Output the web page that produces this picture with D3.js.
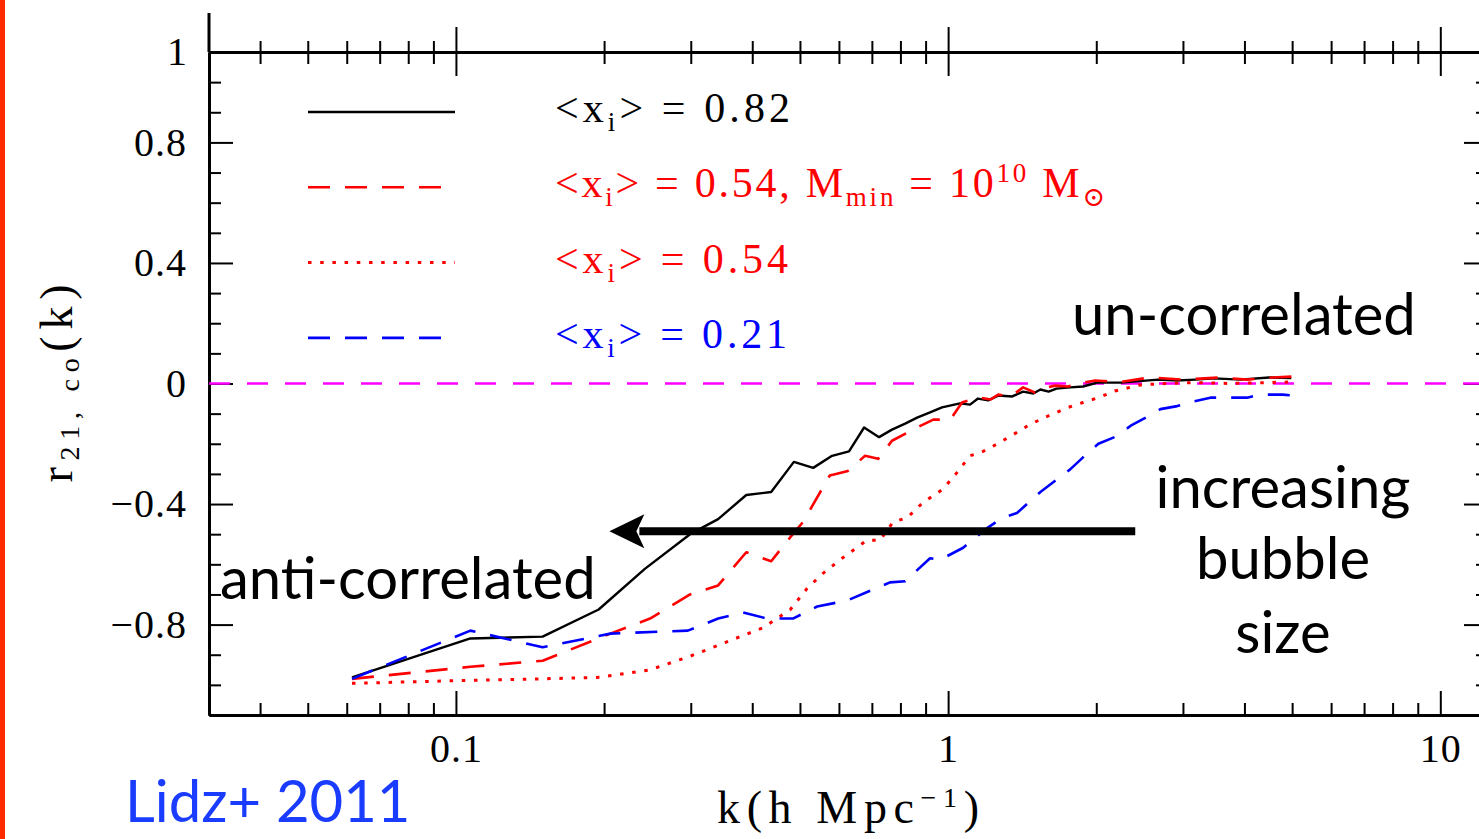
<!DOCTYPE html>
<html>
<head>
<meta charset="utf-8">
<script src="https://cdn.jsdelivr.net/npm/d3@7"></script>
<style>
  body { margin: 0; background: #fff; }
  svg { display: block; }
</style>
</head>
<body>
<svg id="chart"></svg>
<script>
// <x_i> = 0.82
const kBlack = [0.0615, 0.107, 0.150, 0.195, 0.242, 0.299, 0.341, 0.389, 0.437, 0.486, 0.532, 0.581, 0.629, 0.675, 0.724, 0.769, 0.818, 0.865, 0.919, 0.972, 1.057, 1.108, 1.150, 1.206, 1.264, 1.35, 1.42, 1.49, 1.54, 1.60, 1.66, 1.77, 1.88, 2.01, 2.25, 2.45, 2.67, 2.92, 3.18, 3.47, 3.92, 4.49, 4.98];
const rBlack = [-0.975, -0.846, -0.84, -0.75, -0.615, -0.50, -0.45, -0.37, -0.36, -0.26, -0.28, -0.24, -0.225, -0.146, -0.178, -0.153, -0.133, -0.113, -0.096, -0.079, -0.066, -0.07, -0.05, -0.056, -0.04, -0.043, -0.027, -0.033, -0.02, -0.027, -0.017, -0.013, -0.01, 0.003, 0.003, 0.008, 0.013, 0.01, 0.013, 0.017, 0.013, 0.02, 0.018];

// <x_i> = 0.54, M_min = 10^10 M_sun
const kRedMmin = [0.0615, 0.107, 0.150, 0.206, 0.248, 0.299, 0.341, 0.389, 0.437, 0.478, 0.507, 0.575, 0.626, 0.678, 0.721, 0.769, 0.865, 0.933, 1.01, 1.067, 1.15, 1.22, 1.264, 1.34, 1.42, 1.50, 1.55, 1.65, 1.75, 1.88, 1.99, 2.24, 2.57, 3.0, 3.57, 4.05, 4.57, 5.03];
const rRedMmin = [-0.98, -0.94, -0.92, -0.83, -0.78, -0.70, -0.67, -0.56, -0.59, -0.51, -0.46, -0.305, -0.29, -0.24, -0.25, -0.19, -0.146, -0.12, -0.12, -0.063, -0.046, -0.053, -0.037, -0.043, -0.013, -0.03, -0.017, -0.007, -0.01, 0.003, 0.01, 0.005, 0.02, 0.013, 0.02, 0.013, 0.02, 0.023];

// <x_i> = 0.54
const kRed = [0.0615, 0.107, 0.150, 0.196, 0.248, 0.299, 0.352, 0.421, 0.478, 0.517, 0.557, 0.609, 0.684, 0.727, 0.773, 0.826, 0.889, 0.977, 1.043, 1.108, 1.178, 1.26, 1.355, 1.47, 1.59, 1.75, 1.88, 2.02, 2.18, 2.45, 2.76, 3.18, 3.74, 4.41, 5.03];
const rRed = [-0.995, -0.985, -0.98, -0.975, -0.95, -0.905, -0.86, -0.81, -0.75, -0.68, -0.63, -0.58, -0.52, -0.52, -0.46, -0.445, -0.395, -0.35, -0.295, -0.24, -0.225, -0.20, -0.17, -0.135, -0.109, -0.08, -0.063, -0.047, -0.025, -0.005, 0.0, 0.003, 0.0, 0.003, 0.005];

// <x_i> = 0.21
const kBlue = [0.0615, 0.107, 0.150, 0.206, 0.296, 0.341, 0.383, 0.429, 0.484, 0.542, 0.624, 0.762, 0.818, 0.919, 0.963, 1.073, 1.20, 1.29, 1.38, 1.54, 1.77, 1.88, 2.02, 2.20, 2.35, 2.54, 2.70, 2.92, 3.15, 3.41, 3.69, 4.05, 4.30, 4.79, 5.03];
const rBlue = [-0.98, -0.82, -0.875, -0.83, -0.82, -0.78, -0.76, -0.78, -0.78, -0.74, -0.72, -0.66, -0.656, -0.58, -0.585, -0.545, -0.48, -0.445, -0.43, -0.36, -0.285, -0.245, -0.2, -0.175, -0.14, -0.11, -0.085, -0.075, -0.06, -0.047, -0.047, -0.047, -0.037, -0.037, -0.04];

// ticks
const xMajorTicks = [0.1, 1, 10];
const xMinorTicks = [0.04, 0.05, 0.06, 0.07, 0.08, 0.09, 0.2, 0.3, 0.4, 0.5, 0.6, 0.7, 0.8, 0.9, 2, 3, 4, 5, 6, 7, 8, 9];
const yMajorTicks = [-0.8, -0.4, 0, 0.4, 0.8];
const yMinorTicks = [-1.0, -0.9, -0.7, -0.6, -0.5, -0.3, -0.2, -0.1, 0.1, 0.2, 0.3, 0.5, 0.6, 0.7, 0.9, 1.0];
const yTopLabel = "1";

// arrow annotation: from k=2.4 to k=0.205 at r=-0.49
const arrowK = [2.4, 0.205];
const arrowR = -0.49;

const width = 1479, height = 839;
const tickFont = "'Liberation Serif', 'DejaVu Serif', serif";
const noteFont = "Lato, 'Open Sans', sans-serif";
const tickSize = 40;

const svg = d3.select("#chart").attr("width", width).attr("height", height);

svg.append("rect").attr("width", width).attr("height", height).attr("fill", "#fff");
// red bar on the slide's left edge
svg.append("rect").attr("x", 0).attr("y", 0).attr("width", 5).attr("height", height).attr("fill", "#ff2a00");

const x = d3.scaleLog().domain([0.0315, 12.5]).range([209, 1488]);
const y = d3.scaleLinear().domain([-1.1, 1.1]).range([715, 52]);

const [xl, xr] = x.range();
const [yb, yt] = y.range();

function styleAxis(g) {
  g.attr("font-family", tickFont).attr("font-size", tickSize).attr("fill", "#000");
  g.select(".domain").attr("stroke", "#000").attr("stroke-width", 3);
  g.selectAll(".tick line").attr("stroke", "#000").attr("stroke-width", 2);
  g.selectAll(".tick text").attr("fill", "#000").attr("letter-spacing", 1);
}

// bottom axis
svg.append("g").attr("transform", `translate(0,${yb})`)
  .call(d3.axisBottom(x).tickValues(xMinorTicks).tickSizeInner(-12).tickSizeOuter(0).tickFormat(""))
  .call(styleAxis);
svg.append("g").attr("transform", `translate(0,${yb})`)
  .call(d3.axisBottom(x).tickValues(xMajorTicks).tickSizeInner(-24).tickSizeOuter(0).tickPadding(19).tickFormat(d => String(d)))
  .call(styleAxis);

// top axis, ticks crossing the line
svg.append("g").attr("transform", `translate(0,${yt})`)
  .call(d3.axisTop(x).tickValues(xMinorTicks).tickSizeInner(11).tickSizeOuter(0).tickFormat(""))
  .call(styleAxis)
  .call(g => g.selectAll(".tick line").attr("y1", 12));
svg.append("g").attr("transform", `translate(0,${yt})`)
  .call(d3.axisTop(x).tickValues(xMajorTicks).tickSizeInner(25).tickSizeOuter(0).tickFormat(""))
  .call(styleAxis)
  .call(g => g.selectAll(".tick line").attr("y1", 24));

// left axis
const yFmt = d => d === 0 ? "0" : d3.format(".1f")(d);
svg.append("g").attr("transform", `translate(${xl},0)`)
  .call(d3.axisLeft(y).tickValues(yMinorTicks).tickSizeInner(-12).tickSizeOuter(0).tickFormat(""))
  .call(styleAxis);
svg.append("g").attr("transform", `translate(${xl},0)`)
  .call(d3.axisLeft(y).tickValues(yMajorTicks).tickSizeInner(-24).tickSizeOuter(0).tickPadding(22).tickFormat(yFmt))
  .call(styleAxis);
// left spine runs a bit above the top axis
svg.append("line").attr("x1", xl).attr("x2", xl).attr("y1", yt).attr("y2", 13)
  .attr("stroke", "#000").attr("stroke-width", 3);
svg.append("text").attr("x", xl - 22).attr("y", yt).attr("dy", "0.32em")
  .attr("text-anchor", "end").attr("font-family", tickFont).attr("font-size", tickSize)
  .text(yTopLabel);

// right axis (spine sits just off the picture)
svg.append("g").attr("transform", `translate(${xr},0)`)
  .call(d3.axisRight(y).tickValues(yMinorTicks).tickSizeInner(-12).tickSizeOuter(0).tickFormat(""))
  .call(styleAxis);
svg.append("g").attr("transform", `translate(${xr},0)`)
  .call(d3.axisRight(y).tickValues(yMajorTicks).tickSizeInner(-24).tickSizeOuter(0).tickFormat(""))
  .call(styleAxis);

// zero line
svg.append("line")
  .attr("x1", xl).attr("x2", xr).attr("y1", y(0)).attr("y2", y(0))
  .attr("stroke", "#ff00ff").attr("stroke-width", 2.5).attr("stroke-dasharray", "21 17");

// curves
const series = [
  { k: kBlack, r: rBlack, color: "#000", dash: null, width: 2.4 },
  { k: kRedMmin, r: rRedMmin, color: "#ff0000", dash: "22 15", width: 2.6 },
  { k: kRed, r: rRed, color: "#ff0000", dash: "3.5 8.7", width: 3 },
  { k: kBlue, r: rBlue, color: "#0000ff", dash: "22 15", width: 2.6 },
];

const line = d3.line().x(d => x(d[0])).y(d => y(d[1]));

series.forEach(s => {
  svg.append("path")
    .datum(d3.zip(s.k, s.r))
    .attr("d", line)
    .attr("fill", "none")
    .attr("stroke", s.color)
    .attr("stroke-width", s.width)
    .attr("stroke-dasharray", s.dash)
    .attr("stroke-linejoin", "round");
});

// legend
const legendTop = 112, legendStep = 75.3;
const legendLabels = [
  [["<x"], ["i", "sub"], ["> = 0.82"]],
  [["<x"], ["i", "sub"], ["> = 0.54, M"], ["min", "sub"], [" = 10"], ["10", "sup"], [" M"], ["\u2299", "sub"]],
  [["<x"], ["i", "sub"], ["> = 0.54"]],
  [["<x"], ["i", "sub"], ["> = 0.21"]],
];
const legendWidths = [235, 550, 233, 232];

series.forEach((s, i) => {
  const ly = legendTop + i * legendStep;
  svg.append("line")
    .attr("x1", 308).attr("x2", 455).attr("y1", ly).attr("y2", ly)
    .attr("stroke", s.color).attr("stroke-width", s.width)
    .attr("stroke-dasharray", s.dash);

  const t = svg.append("text")
    .attr("x", 555).attr("y", ly + 10)
    .attr("xml:space", "preserve")
    .attr("font-family", tickFont)
    .attr("font-size", 42)
    .attr("fill", s.color)
    .attr("textLength", legendWidths[i])
    .attr("lengthAdjust", "spacing");
  let shift = 0;
  legendLabels[i].forEach(([str, kind]) => {
    const target = kind === "sub" ? 9 : kind === "sup" ? -15 : 0;
    t.append("tspan")
      .attr("dy", target - shift)
      .attr("font-size", kind ? 27 : 42)
      .text(str);
    shift = target;
  });
});

// axis titles
const xTitle = svg.append("text")
  .attr("x", 848).attr("y", 823)
  .attr("text-anchor", "middle")
  .attr("xml:space", "preserve")
  .attr("font-family", tickFont).attr("font-size", 46)
  .attr("textLength", 262).attr("lengthAdjust", "spacing");
xTitle.append("tspan").text("k(h Mpc");
xTitle.append("tspan").attr("dy", -16).attr("font-size", 28).text("\u22121");
xTitle.append("tspan").attr("dy", 16).text(")");

const yTitle = svg.append("text")
  .attr("transform", `translate(72,${(yb + yt) / 2}) rotate(-90)`)
  .attr("text-anchor", "middle")
  .attr("xml:space", "preserve")
  .attr("font-family", tickFont).attr("font-size", 46)
  .attr("textLength", 198).attr("lengthAdjust", "spacing");
yTitle.append("tspan").text("r");
yTitle.append("tspan").attr("dy", 7).attr("font-size", 28).text("21, co");
yTitle.append("tspan").attr("dy", -7).text("(k)");

// annotations
const notes = [
  { text: "un-correlated", x: 1072, y: 335, anchor: "start" },
  { text: "anti-correlated", x: 220, y: 599, anchor: "start" },
  { text: "increasing", x: 1283, y: 508, anchor: "middle" },
  { text: "bubble", x: 1283, y: 579, anchor: "middle" },
  { text: "size", x: 1283, y: 653, anchor: "middle" },
];
svg.selectAll(".note")
  .data(notes)
  .enter()
  .append("text")
  .attr("class", "note")
  .attr("x", d => d.x)
  .attr("y", d => d.y)
  .attr("text-anchor", d => d.anchor)
  .attr("font-family", noteFont)
  .attr("font-size", 58)
  .attr("fill", "#000")
  .text(d => d.text);

svg.append("text")
  .attr("x", 125).attr("y", 822)
  .attr("font-family", noteFont).attr("font-size", 58)
  .attr("fill", "#1a3cff")
  .text("Lidz+ 2011");

// arrow
const ax0 = x(arrowK[0]), ax1 = x(arrowK[1]), ay = y(arrowR);
svg.append("line")
  .attr("x1", ax0).attr("x2", ax1 + 30).attr("y1", ay).attr("y2", ay)
  .attr("stroke", "#000").attr("stroke-width", 8);
svg.append("path")
  .attr("d", `M${ax1},${ay} L${ax1 + 35},${ay - 17} L${ax1 + 27},${ay} L${ax1 + 35},${ay + 17} Z`)
  .attr("fill", "#000");
</script>
</body>
</html>
